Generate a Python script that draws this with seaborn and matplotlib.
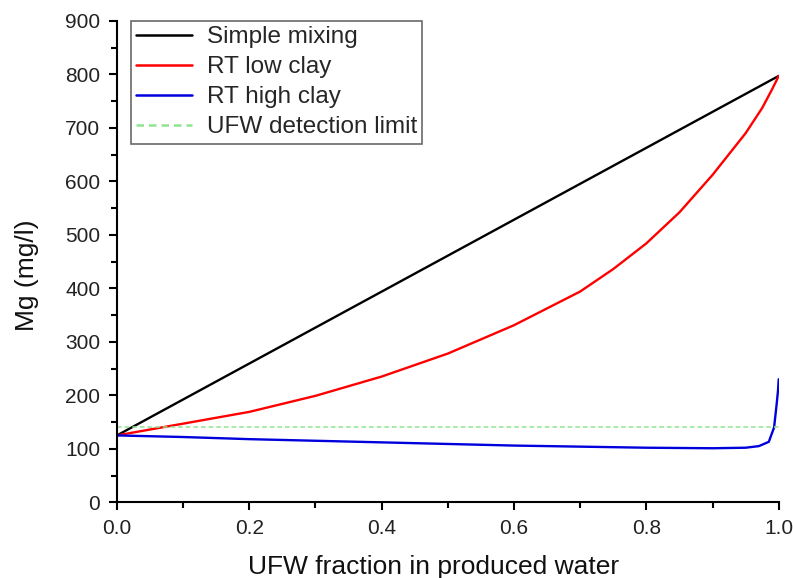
import matplotlib
matplotlib.use("Agg")
import matplotlib.pyplot as plt
import seaborn as sns
import pandas as pd
from matplotlib.ticker import MultipleLocator

# --- data ---
mix_x = [0.0, 1.0]
mix_y = [125, 797]

low_x = [0.0, 0.1, 0.2, 0.3, 0.4, 0.5, 0.6, 0.7, 0.75, 0.8, 0.85, 0.9, 0.95, 0.975, 0.99, 1.0]
low_y = [125, 147, 169, 199, 235, 278, 331, 394, 436, 484, 542, 612, 690, 737, 772, 797]

high_x = [0.0, 0.1, 0.2, 0.3, 0.4, 0.5, 0.6, 0.7, 0.8, 0.9, 0.95, 0.97, 0.985, 0.993, 0.997, 0.999, 1.0]
high_y = [125, 122, 118, 115, 112, 109, 106, 104, 102, 101, 102, 105, 113, 140, 185, 210, 230]

det_x = [0.0, 1.0]
det_y = [140, 140]

series_names = ["Simple mixing", "RT low clay", "RT high clay", "UFW detection limit"]
xlabel = "UFW fraction in produced water"
ylabel = "Mg (mg/l)"

sns.set_theme(style="ticks")
plt.rcParams['font.family'] = ['Liberation Sans', 'DejaVu Sans']

fig = plt.figure(figsize=(7.93, 5.78), dpi=100)
ax = fig.add_axes([0.1475, 0.131, 0.982 - 0.1475, 0.964 - 0.131])

df_mix = pd.DataFrame({"x": mix_x, "y": mix_y})
df_low = pd.DataFrame({"x": low_x, "y": low_y})
df_high = pd.DataFrame({"x": high_x, "y": high_y})
df_det = pd.DataFrame({"x": det_x, "y": det_y})

sns.lineplot(data=df_mix, x="x", y="y", ax=ax, color="black", lw=1.7, label=series_names[0])
sns.lineplot(data=df_low, x="x", y="y", ax=ax, color="#ff0000", lw=1.7, label=series_names[1])
sns.lineplot(data=df_high, x="x", y="y", ax=ax, color="#0000dd", lw=1.7, label=series_names[2])
sns.lineplot(data=df_det, x="x", y="y", ax=ax, color="#90e490", lw=1.1, ls=(0, (3, 2)), label=series_names[3])

ax.set_xlim(0, 1.0)
ax.set_ylim(0, 900)
ax.xaxis.set_major_locator(MultipleLocator(0.2))
ax.xaxis.set_minor_locator(MultipleLocator(0.1))
ax.yaxis.set_major_locator(MultipleLocator(100))
ax.yaxis.set_minor_locator(MultipleLocator(50))
ax.set_xticklabels([f"{v:.1f}" for v in ax.get_xticks()])

for s in ["top", "right"]:
    ax.spines[s].set_visible(False)
for s in ["left", "bottom"]:
    ax.spines[s].set_linewidth(1.5)
    ax.spines[s].set_color("black")

ax.tick_params(axis="both", which="major", direction="out", length=6, width=1.5,
               labelsize=15, colors="black", pad=6)
ax.tick_params(axis="both", which="minor", direction="out", length=4, width=1.5, colors="black")
for lab in ax.get_xticklabels() + ax.get_yticklabels():
    lab.set_color("#222222")

ax.set_xlabel(xlabel, fontsize=19, color="#111111", labelpad=12)
ax.xaxis.set_label_coords(0.479, -0.109)
ax.set_ylabel(ylabel, fontsize=19, color="#111111")
ax.yaxis.set_label_coords(-0.118, 0.472)

leg = ax.legend(loc="upper left", bbox_to_anchor=(0.021, 1.0), fontsize=17.5, frameon=True,
                fancybox=False, edgecolor="#444444", handlelength=2.3, handletextpad=0.6,
                borderpad=0.22, labelspacing=0.33, borderaxespad=0.0)
leg.get_frame().set_linewidth(1.2)
for h in leg.get_lines():
    h.set_linewidth(1.8)

fig.savefig("out.png", dpi=100)
